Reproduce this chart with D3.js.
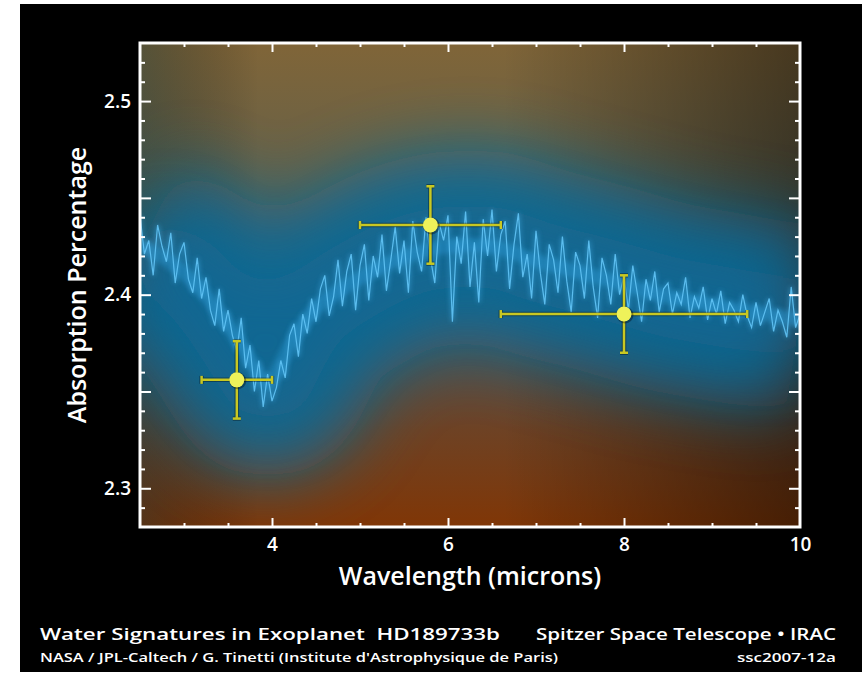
<!DOCTYPE html>
<html>
<head>
<meta charset="utf-8">
<title>Water Signatures in Exoplanet HD189733b</title>
<script src="https://cdn.jsdelivr.net/npm/d3@7"></script>
<style>
body { margin: 0; background: #fff; }
svg text { font-family: "Open Sans", sans-serif; fill: #fff; }
.tick line { stroke: #fff; stroke-width: 2; }
</style>
</head>
<body>
<div id="chart"></div>
<script>
var specStart = 2.5, specStep = 0.05;
var specAbs = [
  2.441, 2.421, 2.428, 2.410, 2.436, 2.425, 2.417, 2.432, 2.406, 2.421,
  2.427, 2.408, 2.401, 2.419, 2.398, 2.409, 2.392, 2.384, 2.403, 2.381,
  2.392, 2.379, 2.371, 2.388, 2.362, 2.374, 2.350, 2.366, 2.342, 2.359,
  2.345, 2.352, 2.366, 2.357, 2.379, 2.385, 2.368, 2.390, 2.380, 2.398,
  2.386, 2.403, 2.410, 2.389, 2.399, 2.418, 2.394, 2.412, 2.421, 2.392,
  2.415, 2.426, 2.397, 2.420, 2.409, 2.431, 2.402, 2.418, 2.435, 2.411,
  2.428, 2.401, 2.438, 2.422, 2.412, 2.440, 2.419, 2.406, 2.437, 2.428,
  2.441, 2.386, 2.430, 2.416, 2.443, 2.404, 2.427, 2.396, 2.439, 2.420,
  2.444, 2.412, 2.431, 2.438, 2.403, 2.426, 2.442, 2.409, 2.421, 2.398,
  2.433, 2.411, 2.395, 2.426, 2.418, 2.401, 2.430, 2.407, 2.391, 2.422,
  2.415, 2.398, 2.428, 2.404, 2.388, 2.419, 2.410, 2.395, 2.421, 2.400,
  2.410, 2.392, 2.415, 2.401, 2.386, 2.408, 2.397, 2.412, 2.391, 2.403,
  2.406, 2.390, 2.401, 2.395, 2.409, 2.388, 2.399, 2.393, 2.404, 2.387,
  2.398, 2.390, 2.402, 2.385, 2.396, 2.392, 2.386, 2.400, 2.389, 2.383,
  2.396, 2.384, 2.391, 2.398, 2.381, 2.392, 2.386, 2.378, 2.404, 2.383,
  2.390
];

// smooth track of the spectrum (for the blue glow behind it)
var glowWave = [2.5, 3.0, 3.5, 3.9, 4.0, 4.25, 4.5, 5.0, 5.5, 6.0, 6.5, 7.0, 7.5, 8.0, 8.5, 9.0, 9.5, 10.0];
var glowAbs  = [2.4256, 2.4137, 2.3861, 2.3537, 2.3537, 2.3794, 2.3948, 2.4091, 2.4204, 2.4256, 2.4266, 2.4168, 2.4117, 2.4055, 2.3983, 2.3948, 2.3907, 2.3871];

// Spitzer IRAC measurements
var pointWave = [3.6, 5.8, 8.0];
var pointAbs  = [2.356, 2.436, 2.390];
var waveErr   = [0.4, 0.8, 1.4];
var absErr    = [0.02, 0.02, 0.02];

var xTickLabels = [4, 6, 8, 10];
var yTickLabels = [2.3, 2.4, 2.5];

var W = 867, H = 677;
var plotL = 140, plotR = 800, plotT = 43, plotB = 527;

var svg = d3.select("#chart").append("svg")
    .attr("width", W)
    .attr("height", H);

svg.append("rect")
    .attr("x", 20).attr("y", 4)
    .attr("width", 842).attr("height", 668)
    .attr("fill", "#000");

var x = d3.scaleLinear().domain([2.5, 10]).range([plotL, plotR]);
var y = d3.scaleLinear().domain([2.28, 2.53]).range([plotB, plotT]);

var defs = svg.append("defs");

defs.append("clipPath").attr("id", "plot")
  .append("rect")
    .attr("x", plotL).attr("y", plotT)
    .attr("width", plotR - plotL).attr("height", plotB - plotT);

var bgV = defs.append("linearGradient").attr("id", "bgV")
    .attr("x1", 0).attr("y1", 0).attr("x2", 0).attr("y2", 1);
[[0, "#806538"], [0.3, "#64614a"], [0.55, "#4d5558"], [0.8, "#6e4224"], [1, "#803606"]]
  .forEach(function(s) { bgV.append("stop").attr("offset", s[0]).attr("stop-color", s[1]); });

var bgH = defs.append("linearGradient").attr("id", "bgH")
    .attr("x1", 0).attr("y1", 0).attr("x2", 1).attr("y2", 0);
bgH.append("stop").attr("offset", 0).attr("stop-color", "#06303a").attr("stop-opacity", 0.35);
bgH.append("stop").attr("offset", 0.18).attr("stop-color", "#000").attr("stop-opacity", 0);
bgH.append("stop").attr("offset", 0.55).attr("stop-color", "#000").attr("stop-opacity", 0);
bgH.append("stop").attr("offset", 1).attr("stop-color", "#000").attr("stop-opacity", 0.45);

defs.append("filter").attr("id", "glow")
    .attr("filterUnits", "userSpaceOnUse")
    .attr("x", 0).attr("y", 0).attr("width", W).attr("height", H)
  .append("feGaussianBlur").attr("stdDeviation", 34);

defs.append("filter").attr("id", "soft")
    .attr("filterUnits", "userSpaceOnUse")
    .attr("x", 0).attr("y", 0).attr("width", W).attr("height", H)
  .append("feGaussianBlur").attr("stdDeviation", 2.5);

var plot = svg.append("g").attr("clip-path", "url(#plot)");

plot.append("rect")
    .attr("x", plotL).attr("y", plotT)
    .attr("width", plotR - plotL).attr("height", plotB - plotT)
    .attr("fill", "url(#bgV)");
plot.append("rect")
    .attr("x", plotL).attr("y", plotT)
    .attr("width", plotR - plotL).attr("height", plotB - plotT)
    .attr("fill", "url(#bgH)");

var glowLine = d3.line()
    .x(function(d, i) { return x(glowWave[i]); })
    .y(function(d) { return y(d); })
    .curve(d3.curveBasis);

plot.append("path")
    .attr("d", glowLine(glowAbs))
    .attr("fill", "none")
    .attr("stroke", "#0a6c9a")
    .attr("stroke-width", 190)
    .attr("opacity", 0.85)
    .attr("filter", "url(#glow)");

plot.append("path")
    .attr("d", glowLine(glowAbs))
    .attr("fill", "none")
    .attr("stroke", "#0a6894")
    .attr("stroke-width", 80)
    .attr("opacity", 0.8)
    .attr("filter", "url(#glow)");

plot.append("path")
    .attr("d", glowLine(glowAbs))
    .attr("fill", "none")
    .attr("stroke", "#2c9ad6")
    .attr("stroke-width", 14)
    .attr("opacity", 0.4)
    .attr("filter", "url(#soft)");

var specLine = d3.line()
    .x(function(d, i) { return x(specStart + i * specStep); })
    .y(function(d) { return y(d); });

plot.append("path")
    .attr("d", specLine(specAbs))
    .attr("fill", "none")
    .attr("stroke", "#45b2ee")
    .attr("stroke-width", 2.5)
    .attr("opacity", 0.5)
    .attr("filter", "url(#soft)");

plot.append("path")
    .attr("d", specLine(specAbs))
    .attr("fill", "none")
    .attr("stroke", "#62c4f6")
    .attr("stroke-width", 1.2)
    .attr("opacity", 0.9);

// error bars
var pts = pointWave.map(function(w, i) {
  return { w: w, a: pointAbs[i], ew: waveErr[i], ea: absErr[i] };
});

function drawBars(g, color, width) {
  g.append("line")
      .attr("x1", function(d) { return x(d.w - d.ew); })
      .attr("x2", function(d) { return x(d.w + d.ew); })
      .attr("y1", function(d) { return y(d.a); })
      .attr("y2", function(d) { return y(d.a); });
  g.append("line")
      .attr("x1", function(d) { return x(d.w); })
      .attr("x2", function(d) { return x(d.w); })
      .attr("y1", function(d) { return y(d.a - d.ea); })
      .attr("y2", function(d) { return y(d.a + d.ea); });
  [-1, 1].forEach(function(s) {
    g.append("line")
        .attr("x1", function(d) { return x(d.w + s * d.ew); })
        .attr("x2", function(d) { return x(d.w + s * d.ew); })
        .attr("y1", function(d) { return y(d.a) - 4; })
        .attr("y2", function(d) { return y(d.a) + 4; });
    g.append("line")
        .attr("x1", function(d) { return x(d.w) - 4; })
        .attr("x2", function(d) { return x(d.w) + 4; })
        .attr("y1", function(d) { return y(d.a + s * d.ea); })
        .attr("y2", function(d) { return y(d.a + s * d.ea); });
  });
  g.selectAll("line").attr("stroke", color).attr("stroke-width", width);
}

var shadow = svg.selectAll(".errshadow").data(pts).enter().append("g")
    .attr("class", "errshadow").attr("opacity", 0.35);
drawBars(shadow, "#000", 4.5);

var bars = svg.selectAll(".err").data(pts).enter().append("g").attr("class", "err");
drawBars(bars, "#c8c822", 2.5);

svg.selectAll(".dotshadow").data(pts).enter().append("circle")
    .attr("cx", function(d) { return x(d.w) + 1; })
    .attr("cy", function(d) { return y(d.a) + 1; })
    .attr("r", 8.5)
    .attr("fill", "#000")
    .attr("opacity", 0.35);

svg.selectAll(".dot").data(pts).enter().append("circle")
    .attr("cx", function(d) { return x(d.w); })
    .attr("cy", function(d) { return y(d.a); })
    .attr("r", 7.5)
    .attr("fill", "#eff25a");

// frame and ticks
var xMinor = d3.range(6, 20).map(function(d) { return d / 2; }).filter(function(d) { return d % 2 !== 0; });
var xMajor = [4, 6, 8];
var yMinor = d3.range(229, 253).map(function(d) { return d / 100; }).filter(function(d) { return Math.round(d * 100) % 5 !== 0; });
var yMajor = [2.3, 2.35, 2.4, 2.45, 2.5];

function tickAxis(axis, values, len, tr) {
  var g = svg.append("g")
      .attr("transform", tr)
      .call(axis.tickValues(values).tickSize(-len).tickFormat(""));
  g.select(".domain").remove();
  return g;
}

tickAxis(d3.axisBottom(x), xMinor, 4, "translate(0," + plotB + ")");
tickAxis(d3.axisBottom(x), xMajor, 9, "translate(0," + plotB + ")");
tickAxis(d3.axisTop(x), xMinor, 4, "translate(0," + plotT + ")");
tickAxis(d3.axisTop(x), xMajor, 9, "translate(0," + plotT + ")");
tickAxis(d3.axisLeft(y), yMinor, 5, "translate(" + plotL + ",0)");
tickAxis(d3.axisLeft(y), yMajor, 11, "translate(" + plotL + ",0)");
tickAxis(d3.axisRight(y), yMinor, 5, "translate(" + plotR + ",0)");
tickAxis(d3.axisRight(y), yMajor, 11, "translate(" + plotR + ",0)");

svg.append("rect")
    .attr("x", plotL).attr("y", plotT)
    .attr("width", plotR - plotL).attr("height", plotB - plotT)
    .attr("fill", "none")
    .attr("stroke", "#fff")
    .attr("stroke-width", 3);

// tick labels
var xLab = svg.append("g")
    .attr("transform", "translate(0," + plotB + ")")
    .call(d3.axisBottom(x).tickValues(xTickLabels).tickSize(0).tickPadding(11).tickFormat(d3.format("d")));
xLab.select(".domain").remove();
xLab.selectAll("text")
    .style("font-size", "19px").style("font-weight", 600).attr("fill", "#fff");

var yLab = svg.append("g")
    .attr("transform", "translate(" + plotL + ",0)")
    .call(d3.axisLeft(y).tickValues(yTickLabels).tickSize(0).tickPadding(9).tickFormat(d3.format(".1f")));
yLab.select(".domain").remove();
yLab.selectAll("text")
    .style("font-size", "19px").style("font-weight", 600).attr("fill", "#fff");

// axis titles
svg.append("text")
    .attr("x", 470).attr("y", 585)
    .attr("text-anchor", "middle")
    .style("font-size", "25px").style("font-weight", 600)
    .text("Wavelength (microns)");

svg.append("text")
    .attr("transform", "translate(86,285) rotate(-90)")
    .attr("text-anchor", "middle")
    .style("font-size", "25px").style("font-weight", 600)
    .text("Absorption Percentage");

// credits
function credit(txt, xx, yy, size, anchor, len) {
  svg.append("text")
      .attr("x", xx).attr("y", yy)
      .attr("text-anchor", anchor)
      .attr("textLength", len)
      .attr("lengthAdjust", "spacingAndGlyphs")
      .style("white-space", "pre")
      .style("font-size", size + "px").style("font-weight", 600)
      .text(txt);
}
credit("Water Signatures in Exoplanet  HD189733b", 40, 640, 17, "start", 460);
credit("NASA / JPL-Caltech / G. Tinetti (Institute d'Astrophysique de Paris)", 40, 662, 13, "start", 518);
credit("Spitzer Space Telescope \u2022 IRAC", 836, 640, 17, "end", 300);
credit("ssc2007-12a", 836, 662, 13, "end", 99);
</script>
</body>
</html>
